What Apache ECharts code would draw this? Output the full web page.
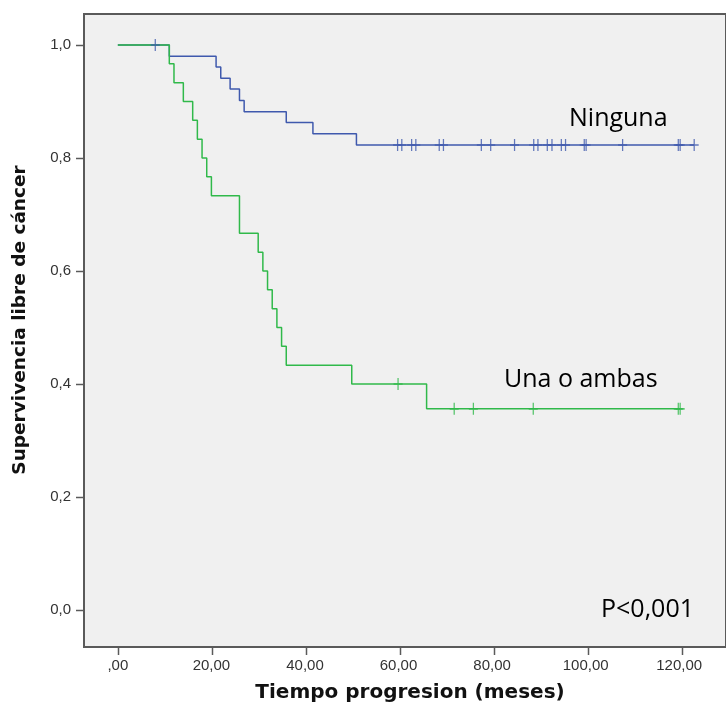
<!DOCTYPE html>
<html>
<head>
<meta charset="utf-8">
<script src="https://cdn.jsdelivr.net/npm/echarts@6/dist/echarts.min.js"></script>
<style>
  html, body { margin: 0; padding: 0; background: #ffffff; }
  #chart { width: 726px; height: 707px; }
</style>
</head>
<body>
<div id="chart"></div>
<script>
// Kaplan-Meier estimates: event times (months) and survival after each step
var ningunaTimes = [0, 11, 21, 22, 24, 26, 27, 36, 41.7, 51, 123.2];
var ningunaSurv  = [1.0, 0.980, 0.961, 0.941, 0.922, 0.902, 0.882, 0.863, 0.843, 0.823, 0.823];
var ningunaCensored = [8, 59.8, 60.7, 62.8, 63.7, 68.7, 69.6, 77.7, 79.7, 84.8, 88.9, 89.8,
                       91.8, 92.8, 94.8, 95.7, 99.7, 100.1, 107.9, 119.8, 120.2, 123.2];

var unaTimes = [0, 11, 12, 14, 16, 17, 18, 19, 20, 26, 30, 31, 32, 33, 34, 35, 36, 50, 66, 120.2];
var unaSurv  = [1.0, 0.967, 0.933, 0.900, 0.867, 0.833, 0.800, 0.767, 0.733, 0.667, 0.633,
                0.600, 0.567, 0.533, 0.500, 0.467, 0.433, 0.400, 0.356, 0.356];
var unaCensored = [59.9, 71.9, 76.0, 88.8, 119.8, 120.2];

// Axis ticks
var xTicks = [0, 20, 40, 60, 80, 100, 120];
var yTicks = [0, 0.2, 0.4, 0.6, 0.8, 1.0];

// Axis ranges (the frame extends a little past the data on every side)
var X_MIN = -7.234, X_MAX = 130.0;
var Y_MIN = -0.0655, Y_MAX = 1.0549;

// Plot frame in pixels
var GRID = { left: 84, top: 14, right: -3, bottom: 60 };
var CHART_W = 726, CHART_H = 707;

var BLUE = '#3f59ad';
var GREEN = '#30b94a';
var FRAME = '#5a5a5a';
var TICK_LEN = 8;

var gridW = CHART_W - GRID.left - GRID.right;
var gridH = CHART_H - GRID.top - GRID.bottom;

function pairs(xs, ys) {
  return xs.map(function (x, i) { return [x, ys[i]]; });
}
// survival level in effect at time t (last step at or before t)
function survivalAt(times, surv, t) {
  var s = surv[0];
  for (var i = 0; i < times.length; i++) {
    if (times[i] <= t) s = surv[i];
  }
  return s;
}
function censorPoints(censored, times, surv) {
  return censored.map(function (t) { return [t, survivalAt(times, surv, t)]; });
}

// linear value-axis mapping for the frame tick marks
function xPix(v) { return GRID.left + (v - X_MIN) / (X_MAX - X_MIN) * gridW; }
function yPix(v) { return GRID.top + (Y_MAX - v) / (Y_MAX - Y_MIN) * gridH; }

// "+" censor mark
var PLUS = 'path://M4.3,0h1.4v12h-1.4z M0,5.2h10v1.6h-10z';

var chart = echarts.init(document.getElementById('chart'), null, { renderer: 'canvas' });

var tickFont = { fontFamily: 'Liberation Sans, Arial, sans-serif', fontSize: 15, color: '#333333' };

var frameBottom = CHART_H - GRID.bottom;
var tickMarks = xTicks.map(function (v) {
  var x = Math.round(xPix(v)) + 0.5;
  return { type: 'line', z: 100, silent: true,
           shape: { x1: x, y1: frameBottom, x2: x, y2: frameBottom + TICK_LEN },
           style: { stroke: FRAME, lineWidth: 1.5 } };
}).concat(yTicks.map(function (v) {
  var y = Math.round(yPix(v)) + 0.5;
  return { type: 'line', z: 100, silent: true,
           shape: { x1: GRID.left - TICK_LEN, y1: y, x2: GRID.left, y2: y },
           style: { stroke: FRAME, lineWidth: 1.5 } };
}));

var texts = [
  {
    type: 'text', x: 410, y: 693,
    style: {
      text: 'Tiempo progresion (meses)', align: 'center', verticalAlign: 'middle',
      font: 'bold 20px "DejaVu Sans", Verdana, sans-serif', fill: '#111111'
    }
  },
  {
    type: 'text', x: 20, y: 320, rotation: Math.PI / 2,
    style: {
      text: 'Supervivencia libre de cáncer', align: 'center', verticalAlign: 'middle',
      font: 'bold 18.5px "DejaVu Sans", Verdana, sans-serif', fill: '#111111'
    }
  },
  {
    type: 'text', x: 569, y: 119,
    style: { text: 'Ninguna', align: 'left', verticalAlign: 'middle',
             font: '25px "Open Sans", sans-serif', fill: '#000000' }
  },
  {
    type: 'text', x: 504, y: 380,
    style: { text: 'Una o ambas', align: 'left', verticalAlign: 'middle',
             font: '25px "Open Sans", sans-serif', fill: '#000000' }
  },
  {
    type: 'text', x: 601, y: 610,
    style: { text: 'P<0,001', align: 'left', verticalAlign: 'middle',
             font: '25px "Open Sans", sans-serif', fill: '#000000' }
  }
];

chart.setOption({
  animation: false,
  backgroundColor: '#ffffff',
  grid: {
    left: GRID.left, top: GRID.top, right: GRID.right, bottom: GRID.bottom,
    show: true,
    backgroundColor: '#f0f0f0',
    borderColor: FRAME,
    borderWidth: 2
  },
  xAxis: {
    type: 'value',
    min: X_MIN,
    max: X_MAX,
    axisLine: { show: true, onZero: false, lineStyle: { color: FRAME, width: 2 } },
    splitLine: { show: false },
    axisTick: { show: false },
    axisLabel: Object.assign({
      customValues: xTicks,
      margin: 11,
      formatter: function (v) { return v === 0 ? ',00' : v + ',00'; }
    }, tickFont)
  },
  yAxis: {
    type: 'value',
    min: Y_MIN,
    max: Y_MAX,
    axisLine: { show: true, onZero: false, lineStyle: { color: FRAME, width: 2 } },
    splitLine: { show: false },
    axisTick: { show: false },
    axisLabel: Object.assign({
      customValues: yTicks,
      margin: 13,
      formatter: function (v) { return v.toFixed(1).replace('.', ','); }
    }, tickFont)
  },
  series: [
    {
      name: 'Ninguna', type: 'line', step: 'end', showSymbol: false, silent: true,
      data: pairs(ningunaTimes, ningunaSurv),
      lineStyle: { color: BLUE, width: 1.5 }, z: 2
    },
    {
      name: 'Una o ambas', type: 'line', step: 'end', showSymbol: false, silent: true,
      data: pairs(unaTimes, unaSurv),
      lineStyle: { color: GREEN, width: 1.5 }, z: 3
    },
    {
      name: 'Ninguna censurado', type: 'scatter', silent: true,
      data: censorPoints(ningunaCensored, ningunaTimes, ningunaSurv),
      symbol: PLUS, symbolSize: [9, 12], symbolKeepAspect: false,
      itemStyle: { color: BLUE }, z: 4
    },
    {
      name: 'Una o ambas censurado', type: 'scatter', silent: true,
      data: censorPoints(unaCensored, unaTimes, unaSurv),
      symbol: PLUS, symbolSize: [9, 12], symbolKeepAspect: false,
      itemStyle: { color: GREEN }, z: 4
    }
  ],
  graphic: texts.concat(tickMarks)
});
</script>
</body>
</html>
